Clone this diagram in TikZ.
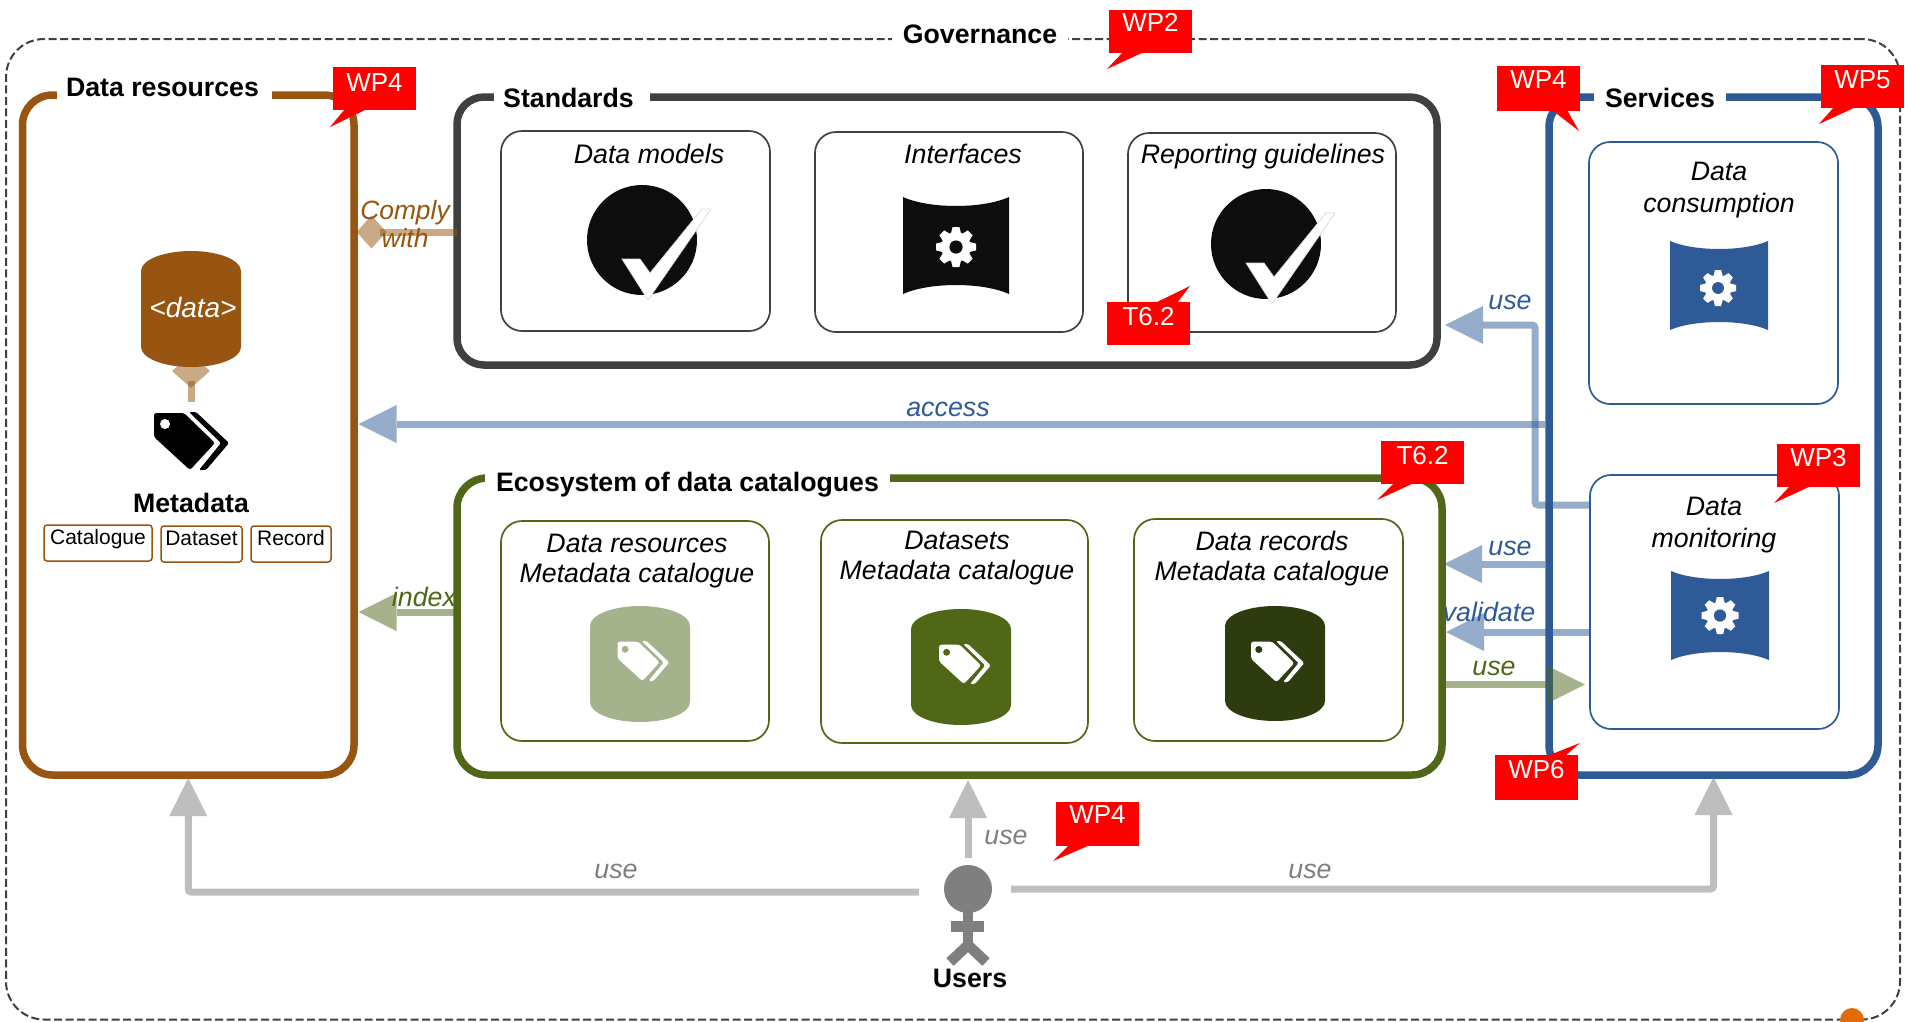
\documentclass[tikz,border=0pt]{standalone}
\usepackage{fontspec}
\setmainfont{Liberation Sans}
\usetikzlibrary{arrows.meta}
\definecolor{cbrown}{HTML}{975511}
\definecolor{cdark}{HTML}{404040}
\definecolor{cgreen}{HTML}{4F6717}
\definecolor{cgreenl}{HTML}{A5B38C}
\definecolor{cgreend}{HTML}{2D3B0E}
\definecolor{cblue}{HTML}{2F5A98}
\definecolor{cgray}{HTML}{7F7F7F}
\definecolor{cblack}{HTML}{0D0D0D}
\definecolor{corange}{HTML}{E36C0A}
\tikzset{
  every node/.style={font=\fontsize{26}{29}\selectfont},
  hd/.tip={Triangle[length=38pt,width=38pt,sep=2pt,line width=0pt]},
  dia/.tip={Diamond[length=30pt,width=33pt,line width=0pt]},
  diab/.tip={Diamond[length=34pt,width=38pt,line width=0pt]},
  bigbox/.style={draw=#1,line width=7.5pt,inner sep=0pt,outer sep=0pt,rounded corners=30pt,fill=white},
  inbox/.style={draw=#1,line width=1.7pt,inner sep=0pt,outer sep=0pt,rounded corners=21pt,fill=white},
  tinybox/.style={draw=cbrown,line width=1.5pt,inner sep=0pt,outer sep=0pt,rounded corners=3pt,align=center,
    font=\fontsize{21}{24}\selectfont,text height=19.5pt,text depth=16.5pt},
  govbox/.style={draw=cdark,line width=2pt,dash pattern=on 8pt off 3.5pt,inner sep=0pt,outer sep=0pt,rounded corners=38pt},
  title/.style={fill=white,inner sep=0pt,anchor=base,font=\fontsize{26.7}{29}\bfseries\selectfont,text height=20pt,text depth=14pt},
  lab/.style={inner sep=0pt,font=\fontsize{26.8}{29}\itshape\selectfont,text height=19pt,text depth=0pt,text=#1},
  lab/.default=black,
  para/.style={inner sep=0pt,align=center,font=\fontsize{26.7}{30}\itshape\selectfont,text=#1},
  para/.default=black,
  boldlab/.style={inner sep=0pt,font=\fontsize{26.7}{29}\bfseries\selectfont,text height=19pt,text depth=0pt},
  conn/.style={draw=#1,line width=7pt,opacity=.5},
  wpnote/.style={fill=red,anchor=north west,inner sep=0pt,outer sep=0pt,text=white,text width=83pt,align=center,
    font=\fontsize{26}{29}\selectfont},
}
% filled can: x1 y1 x2 y2 ry colour
\newcommand\canicon[6]{%
  \pgfmathsetmacro\cw{(#3-#1)/2}\pgfmathsetmacro\cmx{(#1+#3)/2}%
  \pgfmathsetmacro\kx{0.5523*\cw}\pgfmathsetmacro\ky{0.5523*#5}%
  \fill[#6] (#1,#2+#5) .. controls (#1,#2+#5-\ky) and (\cmx-\kx,#2) .. (\cmx,#2)
    .. controls (\cmx+\kx,#2) and (#3,#2+#5-\ky) .. (#3,#2+#5)
    -- (#3,#4-#5) .. controls (#3,#4-#5+\ky) and (\cmx+\kx,#4) .. (\cmx,#4)
    .. controls (\cmx-\kx,#4) and (#1,#4-#5+\ky) .. (#1,#4-#5) -- cycle;}
% concave drum: x1 y1 x2 y2 depth colour
\newcommand\drumicon[6]{%
  \pgfmathsetmacro\dw{#3-#1}%
  \fill[#6] (#1,#2) .. controls (#1+.25*\dw,#2+1.33*#5) and (#3-.25*\dw,#2+1.33*#5) .. (#3,#2)
    -- (#3,#4) .. controls (#3-.25*\dw,#4-1.33*#5) and (#1+.25*\dw,#4-1.33*#5) .. (#1,#4) -- cycle;}
% gear: cx cy r holecolour
\newcommand\gearicon[4]{%
  \begin{scope}[shift={(#1,#2)},scale=#3]
    \fill[white] (0,0) circle (.74);
    \foreach \a in {0,45,...,315}{
      \fill[white,rotate=\a] (-.27,-.6) -- (-.17,-1) -- (.17,-1) -- (.27,-.6) -- cycle;}
    \fill[#4] (0,0) circle (.33);
  \end{scope}}
% double tag: x y scale colour holecolour
\newcommand\tagicon[5]{%
  \begin{scope}[shift={(#1,#2)},scale=#3]
    \fill[#4,rounded corners=2.5pt] (0,1) -- (30,1) -- (61,31) -- (36,58) -- (0,25) -- cycle;
    \fill[#5] (11,12) circle (5);
    \fill[#4,rounded corners=1.5pt] (35,0) -- (42,0) -- (75,31) -- (52,58) -- (45,58) -- (67,31) -- cycle;
  \end{scope}}
% check badge: cx cy
\newcommand\checkicon[2]{%
  \fill[cblack] (#1,#2) circle (55);
  \fill[white,draw=black!15,line width=.7pt] (#1-20,#2+19) -- (#1-2,#2+19) -- (#1+8,#2+33) -- (#1+60,#2-31) -- (#1+69,#2-31) -- (#1+6,#2+60) -- cycle;}
% red note: name x y height baseline text ; tail pts a b tip
\newcommand\wpcall[9]{%
  \fill[red] (#7) -- (#8) -- (#9) -- cycle;
  \node[wpnote,minimum height=#4pt,text height=#5pt,text depth=#4pt-#5pt] (#1) at (#2,#3) {#6};}

\begin{document}
\begin{tikzpicture}[x=1pt,y=-1pt]
\useasboundingbox (0,0) rectangle (1905,1021);
\fill[white] (0,0) rectangle (1905,1021);

% Governance frame
\node[govbox,minimum width=1894pt,minimum height=980.5pt] (gov) at (953,529.25) {};
\node[title,minimum width=176pt] (govt) at (980,43) {Governance};
\fill[corange] (1852,1020) circle (12);

% main containers
\node[bigbox=cbrown,minimum width=331.5pt,minimum height=680pt] (dr) at (188.25,435) {};
\node[bigbox=cdark,minimum width=980pt,minimum height=268pt,rounded corners=27pt] (st) at (947,231) {};
\node[bigbox=cgreen,minimum width=985pt,minimum height=297pt] (eco) at (949.5,626.5) {};
\node[bigbox=cblue,minimum width=329pt,minimum height=678pt] (sv) at (1713.5,436) {};
\node[title,minimum width=215pt] (drt) at (164.5,96.4) {\hspace*{-4pt}Data resources};
\node[title,minimum width=156pt] (stt) at (572,107.4) {\hspace*{-7pt}Standards};
\node[title,minimum width=405pt] (ecot) at (687.5,491.4) {Ecosystem of data catalogues};
\node[title,minimum width=132pt] (svt) at (1660,107.4) {Services};

% inner boxes
\node[inbox=cdark,minimum width=269pt,minimum height=200pt] (m1) at (635.5,231) {};
\node[inbox=cdark,minimum width=268pt,minimum height=200pt] (m2) at (949,232) {};
\node[inbox=cdark,minimum width=268pt,minimum height=199pt] (m3) at (1262,232.5) {};
\node[inbox=cgreen,minimum width=268pt,minimum height=220pt] (e1) at (635,631) {};
\node[inbox=cgreen,minimum width=267pt,minimum height=223pt] (e2) at (954.5,631.5) {};
\node[inbox=cgreen,minimum width=269pt,minimum height=222pt] (e3) at (1268.5,630) {};
\node[inbox=cblue,minimum width=249pt,minimum height=262pt] (dc) at (1713.5,273) {};
\node[inbox=cblue,minimum width=249pt,minimum height=254pt] (dm) at (1714.5,602) {};

% tiny metadata boxes
\node[tinybox,minimum width=108pt,minimum height=36pt,text width=108pt] (cat) at (98,543) {Catalogue};
\node[tinybox,minimum width=81pt,minimum height=36pt,text width=81pt] (dts) at (201.5,544) {Dataset};
\node[tinybox,minimum width=80pt,minimum height=36pt,text width=80pt] (rcd) at (291,544) {Record};

% icons
\coordinate (canB) at (191,354);
\coordinate (tagT) at (191,402);
\draw[conn=cbrown,{diab}-] (canB) -- (tagT);
\canicon{141}{251}{241}{367}{20}{cbrown}
\tagicon{154}{412}{1}{black}{white}
\checkicon{642}{240}
\checkicon{1266}{244}
\drumicon{903}{197}{1009}{294}{9}{cblack}
\gearicon{956}{247}{20}{cblack}
\drumicon{1670}{241}{1768}{330}{8}{cblue}
\gearicon{1718}{288}{18}{cblue}
\drumicon{1671}{571}{1769}{660}{8}{cblue}
\gearicon{1720}{615.5}{18.5}{cblue}
\canicon{590}{606}{690}{722}{20}{cgreenl}
\tagicon{617.5}{641}{.69}{white}{cgreenl}
\canicon{911}{609}{1011}{725}{20}{cgreen}
\tagicon{939}{644}{.69}{white}{cgreen}
\canicon{1225}{606}{1325}{721}{20}{cgreend}
\tagicon{1251}{641}{.71}{white}{cgreend}

% users
\node[circle,fill=cgray,minimum size=48pt,inner sep=0pt,outer sep=0pt] (usr) at (968,889) {};
\fill[cgray] (962.7,905) rectangle (973.3,948);
\fill[cgray] (951,921) rectangle (984,932);
\draw[cgray,line width=10.5pt] (950,962) -- (968,945) -- (986,962);
\node[boldlab] (usrt) at (970,978) {Users};

% connectors
\coordinate (bend) at (1535,325);
\draw[conn=cbrown,{dia}-,shorten <=2.5pt] (dr.east |- 0,232) -- (st.west |- 0,232);
\draw[conn=cblue,-{hd},shorten <=3.7pt,shorten >=2.5pt] (sv.west |- 0,424) -- (dr.east |- 0,424);
\draw[conn=cblue,-{hd},rounded corners=3pt,shorten >=6pt] (dm.west |- 0,505) -| (bend) -- (st.east |- bend);
\draw[conn=cblue,-{hd},shorten <=3.7pt,shorten >=0pt] (sv.west |- 0,564) -- (eco.east |- 0,564);
\draw[conn=cblue,-{hd},shorten >=2pt] (dm.west |- 0,632) -- (eco.east |- 0,632);
\draw[conn=cgreen,-{hd},shorten <=4pt,shorten >=3pt] (eco.east |- 0,684.5) -- (dm.west |- 0,684.5);
\draw[conn=cgreen,-{hd},shorten <=0pt,shorten >=2.5pt] (eco.west |- 0,612) -- (dr.east |- 0,612);
\draw[conn=cgray,-{hd},rounded corners=3pt,shorten >=1pt] ([xshift=-25pt,yshift=-3pt]usr.west) -| (dr.south);
\draw[conn=cgray,-{hd},shorten >=3pt] ([yshift=7pt]usr.north) -- (usr.north |- eco.south);
\draw[conn=cgray,-{hd},rounded corners=3pt,shorten >=0pt] ([xshift=19pt]usr.east) -| (sv.south);

% text labels
\node[para=cbrown,font=\fontsize{26.4}{28}\itshape\selectfont] (cw) at (405,224) {Comply\\with};
\node[lab=white,font=\fontsize{28}{30}\itshape\selectfont,text height=20pt] (dat) at (193,307) {<data>};
\node[boldlab] (met) at (191,503) {Metadata};
\node[lab] (lm1) at (649,154) {Data models};
\node[lab] (lm2) at (963,154) {Interfaces};
\node[lab] (lm3) at (1263,154) {Reporting guidelines};
\node[para] (le1) at (637,561) {Data resources\\Metadata catalogue};
\node[para] (le2) at (957,558) {Datasets\\Metadata catalogue};
\node[para] (le3) at (1272,559) {Data records\\Metadata catalogue};
\node[para,font=\fontsize{26.7}{32}\itshape\selectfont] (ldc) at (1719,190.5) {Data\\consumption};
\node[para,font=\fontsize{26.7}{32}\itshape\selectfont] (ldm) at (1714,525.5) {Data\\monitoring};
\node[lab=cblue] (la1) at (948,407) {access};
\node[lab=cblue] (la2) at (1510,300) {use};
\node[lab=cblue] (la3) at (1510,546) {use};
\node[lab=cblue] (la4) at (1489,612) {validate};
\node[lab=cgreen] (la5) at (1494,666) {use};
\node[lab=cgreen] (la6) at (424,597) {index};
\node[lab=cgray] (la7) at (1006,835) {use};
\node[lab=cgray] (la8) at (616,869) {use};
\node[lab=cgray] (la9) at (1310,869) {use};

% red notes
\wpcall{n1}{333}{67}{43}{24}{WP4}{345,109}{367,109}{330,127}
\wpcall{n2}{1109}{10}{43}{21}{WP2}{1123,52}{1144,52}{1107,69}
\wpcall{n3}{1497}{66}{45}{22}{WP4}{1552,110}{1567,110}{1579,131}
\wpcall{n4}{1821}{65}{43}{23}{WP5}{1834,107}{1856,107}{1819,124}
\wpcall{n5}{1107}{302}{43}{23}{T6.2}{1155,303}{1177,303}{1190,286}
\wpcall{n6}{1381}{441}{43}{23}{T6.2}{1394,483}{1414,483}{1377,500}
\wpcall{n7}{1777}{444}{43}{22}{WP3}{1790,486}{1811,486}{1774,503}
\wpcall{n8}{1495}{755}{45}{23}{WP6}{1547,756}{1565,756}{1580,743}
\wpcall{n9}{1056}{802}{44}{21}{WP4}{1069,845}{1090,845}{1053,861}
\end{tikzpicture}
\end{document}
